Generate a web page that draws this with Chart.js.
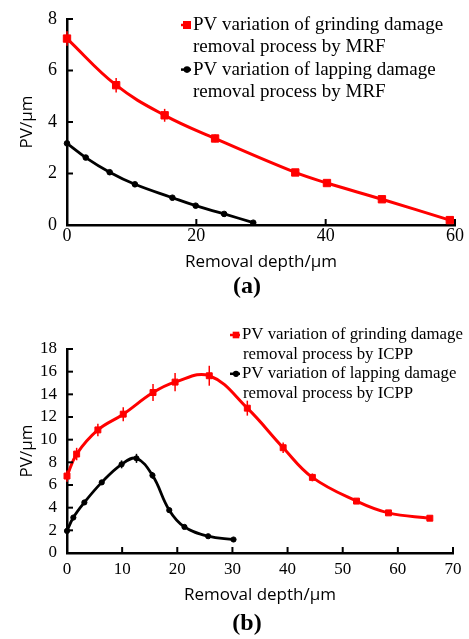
<!DOCTYPE html>
<html>
<head>
<meta charset="utf-8">
<script src="https://cdn.jsdelivr.net/npm/chart.js@4.4.1/dist/chart.umd.min.js"></script>
<style>
  html, body { margin: 0; padding: 0; background: #fff; }
  #wrap { position: relative; width: 469px; height: 639px; }
  canvas { position: absolute; left: 0; }
  #chartA { top: 0; width: 469px; height: 300px; }
  #chartB { top: 300px; width: 469px; height: 339px; }
</style>
</head>
<body>
<div id="wrap">
  <canvas id="chartA" width="469" height="300"></canvas>
  <canvas id="chartB" width="469" height="339"></canvas>
</div>
<script>
// ---- (a) MRF: PV versus removal depth ----
const mrfGrindDepth = [0, 7.6, 15.1, 22.9, 35.3, 40.2, 48.7, 59.2];
const mrfGrindPV    = [7.24, 5.43, 4.26, 3.36, 2.04, 1.63, 1.0, 0.19];
const mrfGrindErr   = [0.28, 0.28, 0.25, 0.15, 0.1, 0.1, 0.08, 0.08];
const mrfLapDepth   = [0, 2.9, 6.6, 10.5, 16.3, 19.9, 24.3, 28.8];
const mrfLapPV      = [3.17, 2.62, 2.05, 1.58, 1.06, 0.75, 0.43, 0.09];

// ---- (b) ICPP: PV versus removal depth ----
const icppGrindDepth = [0, 1.75, 5.6, 10.2, 15.6, 19.6, 25.8, 32.7, 39.2, 44.5, 52.5, 58.3, 65.8];
const icppGrindPV    = [6.79, 8.73, 10.86, 12.25, 14.16, 15.08, 15.64, 12.78, 9.29, 6.67, 4.58, 3.54, 3.07];
const icppGrindErr   = [0.5, 0.55, 0.55, 0.62, 0.75, 0.8, 0.88, 0.66, 0.47, 0.35, 0.2, 0.15, 0.1];
const icppLapDepth   = [0, 1.15, 3.15, 6.3, 9.9, 12.6, 15.5, 18.55, 21.3, 25.6, 30.2];
const icppLapPV      = [1.95, 3.13, 4.46, 6.23, 7.82, 8.35, 6.85, 3.78, 2.3, 1.48, 1.19];
const icppLapErr     = [0.2, 0.2, 0.2, 0.2, 0.35, 0.4, 0.3, 0.2, 0.15, 0.1, 0.1];

// ---- text ----
const xTitle = 'Removal depth/\u03bcm';
const yTitle = 'PV/\u03bcm';
const legendA = [
  ['PV variation of grinding damage', 'removal process by MRF'],
  ['PV variation of lapping damage', 'removal process by MRF']
];
const legendB = [
  ['PV variation of grinding damage', 'removal process by ICPP'],
  ['PV variation of lapping damage', 'removal process by ICPP']
];

const RED = '#ff0000';
const BLACK = '#000000';
const SERIF = '"Liberation Serif", "Times New Roman", serif';
const SANS = '"Open Sans", "Noto Sans", sans-serif';

function pairs(xs, ys) { return xs.map((x, i) => ({ x: x, y: ys[i] })); }

// vertical error bars, read from dataset.errorBars
const errorBarPlugin = {
  id: 'errorBarPlugin',
  afterDatasetsDraw(chart) {
    const ctx = chart.ctx;
    const yScale = chart.scales.y;
    chart.data.datasets.forEach((ds, i) => {
      if (!ds.errorBars) return;
      const meta = chart.getDatasetMeta(i);
      ctx.save();
      ctx.strokeStyle = ds.borderColor;
      ctx.lineWidth = 1.5;
      meta.data.forEach((pt, j) => {
        const e = ds.errorBars[j];
        if (!e) return;
        const v = ds.data[j].y;
        ctx.beginPath();
        ctx.moveTo(pt.x, yScale.getPixelForValue(v - e));
        ctx.lineTo(pt.x, yScale.getPixelForValue(v + e));
        ctx.stroke();
      });
      ctx.restore();
    });
  }
};

// tick marks pointing into the plot area
const innerTicksPlugin = {
  id: 'innerTicksPlugin',
  afterDraw(chart) {
    const { ctx, chartArea: a, scales } = chart;
    const len = 6;
    ctx.save();
    ctx.strokeStyle = '#000';
    ctx.lineWidth = 2;
    scales.x.ticks.forEach(t => {
      const px = scales.x.getPixelForValue(t.value);
      if (t.value === scales.x.min) return;
      ctx.beginPath();
      ctx.moveTo(px, a.bottom);
      ctx.lineTo(px, a.bottom - len);
      ctx.stroke();
    });
    scales.y.ticks.forEach(t => {
      const py = scales.y.getPixelForValue(t.value);
      if (t.value === scales.y.min) return;
      ctx.beginPath();
      ctx.moveTo(a.left, py);
      ctx.lineTo(a.left + len, py);
      ctx.stroke();
    });
    ctx.restore();
  }
};

function drawMarker(ctx, style, x, y, r, color) {
  ctx.fillStyle = color;
  ctx.beginPath();
  if (style === 'rect') {
    const s = r * Math.SQRT1_2;
    ctx.rect(x - s, y - s, 2 * s, 2 * s);
  } else {
    ctx.arc(x, y, r, 0, Math.PI * 2);
  }
  ctx.fill();
}

// two-line legend entries with a line-and-marker symbol
const blockLegendPlugin = {
  id: 'blockLegend',
  afterDraw(chart, args, opts) {
    const ctx = chart.ctx;
    ctx.save();
    ctx.font = opts.fontSize + 'px ' + SERIF;
    ctx.textBaseline = 'middle';
    ctx.textAlign = 'left';
    let row = 0;
    chart.data.datasets.forEach((ds, i) => {
      const lines = opts.entries[i];
      const y0 = opts.y + row * opts.gap;
      ctx.strokeStyle = ds.borderColor;
      ctx.lineWidth = 2.5;
      ctx.beginPath();
      ctx.moveTo(opts.x - 6, y0);
      ctx.lineTo(opts.x + 4, y0);
      ctx.stroke();
      drawMarker(ctx, ds.pointStyle, opts.x, y0, ds.pointRadius + 0.5, ds.borderColor);
      ctx.fillStyle = '#000';
      lines.forEach((ln, k) => {
        ctx.fillText(ln, opts.textX + (k ? opts.indent : 0), y0 + k * opts.gap);
      });
      row += lines.length;
    });
    ctx.restore();
  }
};

// panel letter under the axis title
const panelTagPlugin = {
  id: 'panelTag',
  afterDraw(chart, args, opts) {
    const ctx = chart.ctx;
    ctx.save();
    ctx.font = 'bold ' + opts.size + 'px ' + SERIF;
    ctx.fillStyle = '#000';
    ctx.textAlign = 'center';
    ctx.textBaseline = 'middle';
    ctx.fillText(opts.text, opts.x, opts.y);
    ctx.restore();
  }
};

function makeChart(canvasId, cfg) {
  const H = cfg.height;
  return new Chart(document.getElementById(canvasId), {
    type: 'line',
    data: { datasets: cfg.datasets },
    options: {
      responsive: false,
      animation: false,
      devicePixelRatio: 1,
      layout: { padding: { left: 0, top: cfg.top, right: cfg.right, bottom: 0 } },
      plugins: {
        legend: { display: false },
        tooltip: { enabled: false },
        blockLegend: cfg.legend,
        panelTag: cfg.tag
      },
      scales: {
        x: {
          type: 'linear',
          min: 0, max: cfg.xMax,
          grid: { display: true, drawOnChartArea: false, drawTicks: false },
          border: { display: true, color: '#000', width: 2.5 },
          ticks: {
            stepSize: cfg.xStep, color: '#000', padding: cfg.xTickPad,
            autoSkip: false, maxRotation: 0,
            font: { family: SERIF, size: cfg.tickSize, lineHeight: 1.2 }
          },
          title: {
            display: true, text: xTitle, color: '#000',
            font: { family: SANS, size: 17, lineHeight: 1.2 },
            padding: { top: 0, bottom: cfg.xTitleBottom }
          },
          afterFit(s) { s.height = H - cfg.bottom; }
        },
        y: {
          min: 0, max: cfg.yMax,
          grid: { display: true, drawOnChartArea: false, drawTicks: false },
          border: { display: true, color: '#000', width: 2.5 },
          ticks: {
            stepSize: cfg.yStep, color: '#000', padding: 10,
            autoSkip: false,
            font: { family: SERIF, size: cfg.tickSize, lineHeight: 1.0 }
          },
          title: {
            display: true, text: yTitle, color: '#000',
            font: { family: SANS, size: 17, lineHeight: 1.2 },
            padding: { top: cfg.yTitleLeft, bottom: 0 }
          },
          afterFit(s) { s.width = 67; }
        }
      }
    },
    plugins: [innerTicksPlugin, errorBarPlugin, blockLegendPlugin, panelTagPlugin]
  });
}

function series(xs, ys, color, style, radius, width, errs) {
  return {
    data: pairs(xs, ys),
    borderColor: color,
    backgroundColor: color,
    borderWidth: width,
    pointStyle: style,
    pointRadius: radius,
    pointBorderWidth: 1,
    pointBorderColor: color,
    pointBackgroundColor: color,
    tension: 0.4,
    clip: false,
    errorBars: errs || null
  };
}

makeChart('chartA', {
  height: 300, top: 18, right: 14, bottom: 225,
  xMax: 60, xStep: 20, yMax: 8, yStep: 2,
  tickSize: 18, xTickPad: 0, xTitleBottom: 28, yTitleLeft: 17,
  datasets: [
    series(mrfGrindDepth, mrfGrindPV, RED, 'rect', 5.2, 3, mrfGrindErr),
    series(mrfLapDepth, mrfLapPV, BLACK, 'circle', 2.8, 2.8)
  ],
  legend: { entries: legendA, x: 187, y: 25, textX: 193, indent: 0, gap: 22.3, fontSize: 19 },
  tag: { text: '(a)', x: 247, y: 287, size: 24 }
});

makeChart('chartB', {
  height: 339, top: 49, right: 16, bottom: 253,
  xMax: 70, xStep: 10, yMax: 18, yStep: 2,
  tickSize: 17, xTickPad: 6, xTitleBottom: 34, yTitleLeft: 17,
  datasets: [
    series(icppGrindDepth, icppGrindPV, RED, 'rect', 4.2, 3, icppGrindErr),
    series(icppLapDepth, icppLapPV, BLACK, 'circle', 2.6, 2.8, icppLapErr)
  ],
  legend: { entries: legendB, x: 236, y: 35, textX: 242, indent: 1, gap: 19.4, fontSize: 16.8 },
  tag: { text: '(b)', x: 247, y: 324, size: 24 }
});
</script>
</body>
</html>
